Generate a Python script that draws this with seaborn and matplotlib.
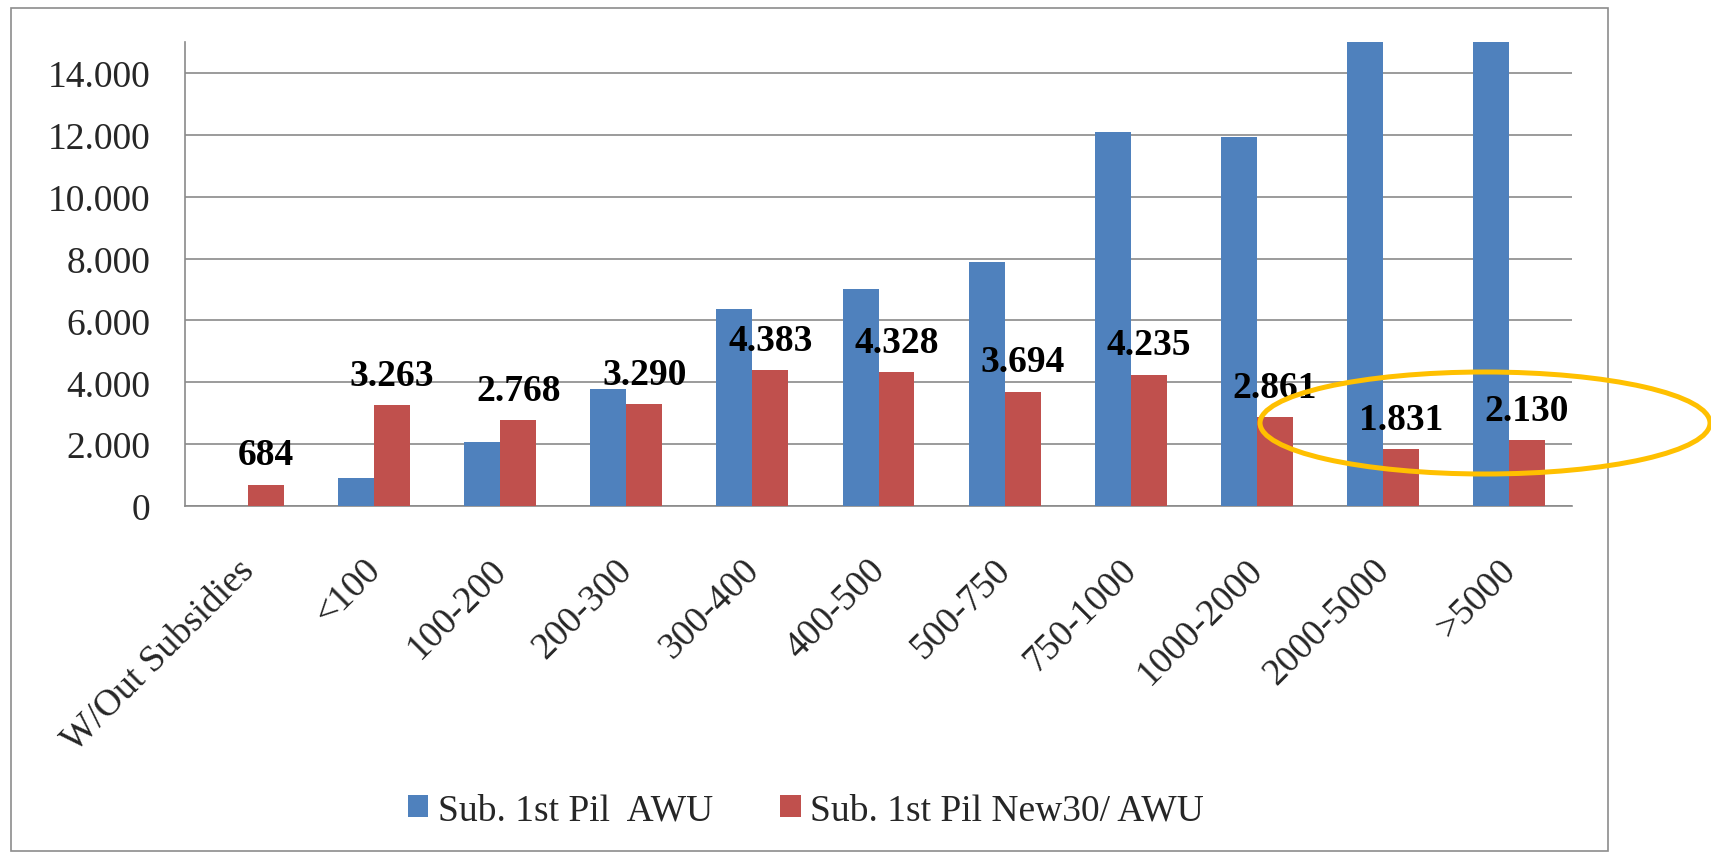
import seaborn as sns
import matplotlib.pyplot as plt
import pandas as pd
import numpy as np
from matplotlib.patches import Patch, Ellipse, Rectangle
from matplotlib.ticker import FixedLocator, FuncFormatter
import matplotlib.transforms as mtransforms

# Farm size classes (ESU / ha) and the two subsidy series per AWU
categories = ['W/Out Subsidies', '<100', '100-200', '200-300', '300-400', '400-500',
              '500-750', '750-1000', '1000-2000', '2000-5000', '>5000']
series_names = ['Sub. 1st Pil  AWU', 'Sub. 1st Pil New30/ AWU']
# blue series; the last two run past the top of the axis (15.000)
sub_1st_pil = [0, 900, 2080, 3770, 6360, 7030, 7880, 12090, 11920, 15000, 15000]
sub_new30 = [684, 3263, 2768, 3290, 4383, 4328, 3694, 4235, 2861, 1831, 2130]
y_ticks = [0, 2000, 4000, 6000, 8000, 10000, 12000, 14000]

df = pd.DataFrame({
    'Class': categories * 2,
    'Value': sub_1st_pil + sub_new30,
    'Series': [series_names[0]] * len(categories) + [series_names[1]] * len(categories),
})

blue = '#4F81BD'
red = '#C0504D'
grid_grey = '#8A8A8A'

sns.set_style("white")
plt.rcParams['font.family'] = ['Liberation Serif', 'DejaVu Serif']

fig = plt.figure(figsize=(17.11, 8.53), dpi=100)
ax = fig.add_axes([185 / 1711, 1 - 507 / 853, (1572 - 185) / 1711, (507 - 43) / 853])

sns.barplot(data=df, x='Class', y='Value', hue='Series', hue_order=series_names,
            palette=[blue, red], saturation=1, width=0.571, gap=0,
            linewidth=0, legend=False, ax=ax, zorder=3)

ax.set_xlim(-0.5, len(categories) - 0.5)
ax.set_ylim(0, 15000)
ax.set_yticks(y_ticks)
ax.yaxis.set_major_formatter(FuncFormatter(lambda v, p: f"{int(v):,}".replace(',', '.')))
ax.set_xlabel('')
ax.set_ylabel('')

# horizontal gridlines
ax.yaxis.grid(True, color=grid_grey, linewidth=1.2)
ax.set_axisbelow(True)

for side in ['top', 'right']:
    ax.spines[side].set_visible(False)
for side in ['left', 'bottom']:
    ax.spines[side].set_color(grid_grey)
    ax.spines[side].set_linewidth(1.2)

# Excel-style tick marks between the categories
ax.xaxis.set_minor_locator(FixedLocator(np.arange(-0.5, len(categories), 1.0)))
ax.tick_params(axis='x', which='minor', length=8, width=1.2, color=grid_grey, direction='out')
ax.tick_params(axis='x', which='major', length=0, pad=42, labelsize=27)
ax.tick_params(axis='y', length=8, width=1.2, color=grid_grey, pad=17, labelsize=27)

ax.set_xticks(range(len(categories)))
ax.set_xticklabels(categories, rotation=45, ha='right', va='center', rotation_mode='anchor')
shift = mtransforms.ScaledTranslation(1 / 100, 0, fig.dpi_scale_trans)
for lab in ax.get_xticklabels():
    lab.set_transform(lab.get_transform() + shift)

# value labels above the red bars
red_bars = ax.containers[1]
ax.bar_label(red_bars, labels=[f"{v:,}".replace(',', '.') for v in sub_new30],
             padding=9, fontsize=27, fontweight='bold', color='black', zorder=5)

# legend
handles = [Patch(facecolor=blue, edgecolor='none'), Patch(facecolor=red, edgecolor='none')]
fig.legend(handles, series_names, loc='center', bbox_to_anchor=(806 / 1711, 1 - 811 / 853),
           ncol=2, frameon=False, fontsize=27, handlelength=0.55, handleheight=0.55,
           handletextpad=0.25, columnspacing=1.8)

# chart border
fig.add_artist(Rectangle((11 / 1711, 1 / 853), (1608 - 11) / 1711, (852 - 9) / 853,
                         transform=fig.transFigure, fill=False,
                         edgecolor='#8C8C8C', linewidth=1.2))

# highlight ellipse around the largest farm classes
fig.add_artist(Ellipse((1485 / 1711, 1 - 424 / 853), 450 / 1711, 102 / 853,
                       transform=fig.transFigure, fill=False,
                       edgecolor='#FFC000', linewidth=3.6, zorder=10))

plt.savefig('out.png', dpi=100)
